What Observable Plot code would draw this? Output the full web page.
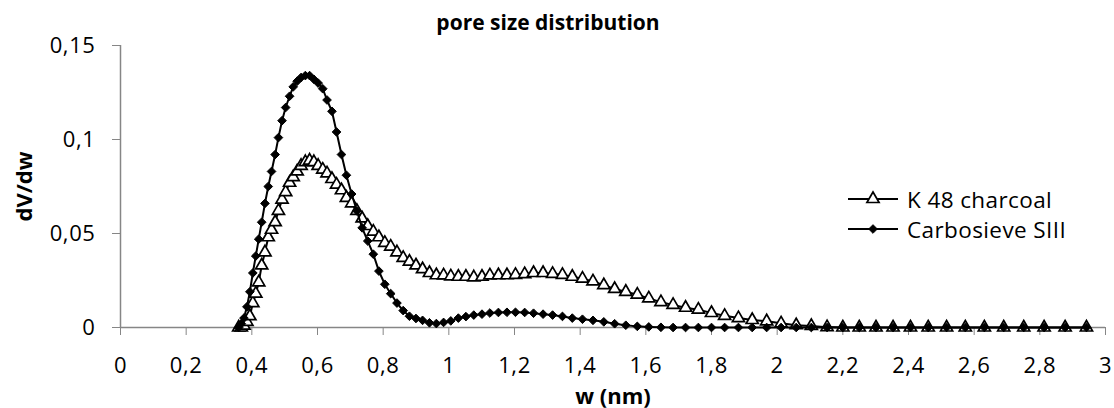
<!DOCTYPE html>
<html>
<head>
<meta charset="utf-8">
<script src="https://cdn.jsdelivr.net/npm/d3@7"></script>
<script src="https://cdn.jsdelivr.net/npm/@observablehq/plot@0.6"></script>
<style>
  html, body { margin: 0; padding: 0; background: #fff; }
  #wrap { position: relative; width: 1114px; height: 408px; font-family: "Open Sans", Lato, sans-serif; }
  #title { position: absolute; top: 8px; left: 0; width: 1096px; text-align: center; font-weight: bold; font-size: 21px; line-height: 1.36; color: #000; }
  #legend { position: absolute; left: 848px; top: 184px; font-size: 22.5px; letter-spacing: 0.4px; color: #000; }
  .row { display: flex; align-items: center; height: 30px; }
  .row svg { margin-right: 9px; }
  g[aria-label="x-axis tick label"] text, g[aria-label="y-axis tick label"] text { letter-spacing: 0.6px; }
  g[aria-label="x-axis label"] text, g[aria-label="y-axis label"] text { font-weight: bold; }
</style>
</head>
<body>
<div id="wrap">
  <div id="chart"></div>
  <div id="title">pore size distribution</div>
  <div id="legend"></div>
</div>
<script>
const seriesNames = ["K 48 charcoal", "Carbosieve SIII"];
const w = [0.360,0.368,0.376,0.385,0.394,0.403,0.412,0.421,0.430,0.440,0.450,0.460,0.471,0.481,0.492,0.503,0.515,0.526,0.538,0.550,0.563,0.576,0.589,0.602,0.616,0.629,0.644,0.658,0.673,0.688,0.704,0.720,0.736,0.753,0.770,0.787,0.805,0.823,0.842,0.861,0.880,0.900,0.920,0.941,0.962,0.984,1.006,1.029,1.052,1.076,1.101,1.125,1.151,1.177,1.203,1.231,1.258,1.287,1.316,1.346,1.376,1.407,1.439,1.472,1.505,1.539,1.574,1.609,1.646,1.683,1.721,1.760,1.800,1.840,1.882,1.924,1.968,2.012,2.058,2.104,2.152,2.200,2.250,2.301,2.353,2.406,2.460,2.516,2.573,2.631,2.690,2.751,2.813,2.877,2.942];
const k48 = [0,0,0.001,0.003,0.006,0.013,0.018,0.024,0.033,0.040,0.048,0.052,0.056,0.062,0.068,0.072,0.077,0.080,0.083,0.086,0.088,0.0888,0.088,0.086,0.084,0.082,0.079,0.076,0.073,0.069,0.066,0.062,0.058,0.054,0.051,0.048,0.045,0.043,0.040,0.037,0.035,0.033,0.031,0.029,0.0278,0.0277,0.0272,0.0270,0.0270,0.0267,0.0270,0.0277,0.0278,0.0278,0.0280,0.0284,0.0290,0.0290,0.0285,0.0280,0.0270,0.0260,0.0245,0.0225,0.0205,0.0190,0.0175,0.0155,0.0135,0.0120,0.0105,0.0095,0.0077,0.0062,0.0050,0.0040,0.0033,0.0022,0.0012,0.0008,0.0002,0,0,0,0,0,0,0,0,0,0,0,0,0,0];
const carbosieve = [0,0.002,0.005,0.011,0.019,0.029,0.038,0.047,0.056,0.066,0.075,0.083,0.092,0.101,0.110,0.117,0.123,0.128,0.131,0.133,0.134,0.134,0.132,0.130,0.127,0.121,0.115,0.104,0.092,0.081,0.071,0.062,0.053,0.046,0.039,0.030,0.023,0.018,0.013,0.009,0.006,0.0048,0.0038,0.0025,0.0021,0.0027,0.0035,0.0050,0.0058,0.0066,0.0071,0.0077,0.0080,0.0081,0.0081,0.0080,0.0076,0.0071,0.0066,0.0059,0.0050,0.0044,0.0038,0.0030,0.0020,0.0012,0.0006,0.0003,0.0001,0,0,0,0,0,0,0,0,0,0,0,0,0,0,0,0,0,0,0,0,0,0,0,0,0,0];
const xTicks = [0,0.2,0.4,0.6,0.8,1,1.2,1.4,1.6,1.8,2,2.2,2.4,2.6,2.8,3];
const yTicks = [0,0.05,0.1,0.15];

const rowsK = w.map((x, i) => ({w: x, v: k48[i]}));
const rowsC = w.map((x, i) => ({w: x, v: carbosieve[i]}));
const comma = d => String(d).replace(".", ",");
const axisGray = "#868686";

const chart = Plot.plot({
  width: 1114,
  height: 408,
  marginLeft: 120,
  marginRight: 9,
  marginTop: 45,
  marginBottom: 81,
  style: {fontFamily: "'Open Sans', Lato, sans-serif", fontSize: "22px", color: "#000", background: "#fff"},
  x: {domain: [0, 3]},
  y: {domain: [0, 0.15]},
  marks: [
    Plot.axisX({ticks: xTicks, tickFormat: comma, tickSize: 8, tickPadding: 22, stroke: axisGray, fill: "#000",
      label: "w (nm)", labelAnchor: "center", labelArrow: "none", labelOffset: 76}),
    Plot.axisY({ticks: yTicks, tickFormat: comma, tickSize: 8, tickPadding: 17, stroke: axisGray, fill: "#000",
      label: "dV/dw", labelAnchor: "center", labelArrow: "none", labelOffset: 104}),
    Plot.ruleX([0], {stroke: axisGray, strokeWidth: 1.5}),
    Plot.ruleY([0], {stroke: axisGray, strokeWidth: 1.5}),
    Plot.line(rowsK, {x: "w", y: "v", stroke: "#000", strokeWidth: 2}),
    Plot.dot(rowsK, {x: "w", y: "v", symbol: "triangle", r: 4.5, fill: "#fff", stroke: "#000", strokeWidth: 1.7}),
    Plot.line(rowsC, {x: "w", y: "v", stroke: "#000", strokeWidth: 2}),
    Plot.dot(rowsC, {x: "w", y: "v", symbol: "diamond2", r: 3.9, fill: "#000", stroke: "#000", strokeWidth: 1})
  ]
});
document.getElementById("chart").appendChild(chart);

// legend
const legend = document.getElementById("legend");
const triPath = d3.symbol(d3.symbolTriangle, 64)();
const diaPath = d3.symbol(d3.symbolDiamond2, 48)();
seriesNames.forEach((name, i) => {
  const row = document.createElement("div");
  row.className = "row";
  const marker = i === 0
    ? `<path d="${triPath}" transform="translate(25,9)" fill="#fff" stroke="#000" stroke-width="1.7"/>`
    : `<path d="${diaPath}" transform="translate(25,9)" fill="#000" stroke="#000" stroke-width="1"/>`;
  row.innerHTML = `<svg width="50" height="18"><line x1="0" x2="50" y1="9" y2="9" stroke="#000" stroke-width="2"/>${marker}</svg><span>${name}</span>`;
  legend.appendChild(row);
});
</script>
</body>
</html>
